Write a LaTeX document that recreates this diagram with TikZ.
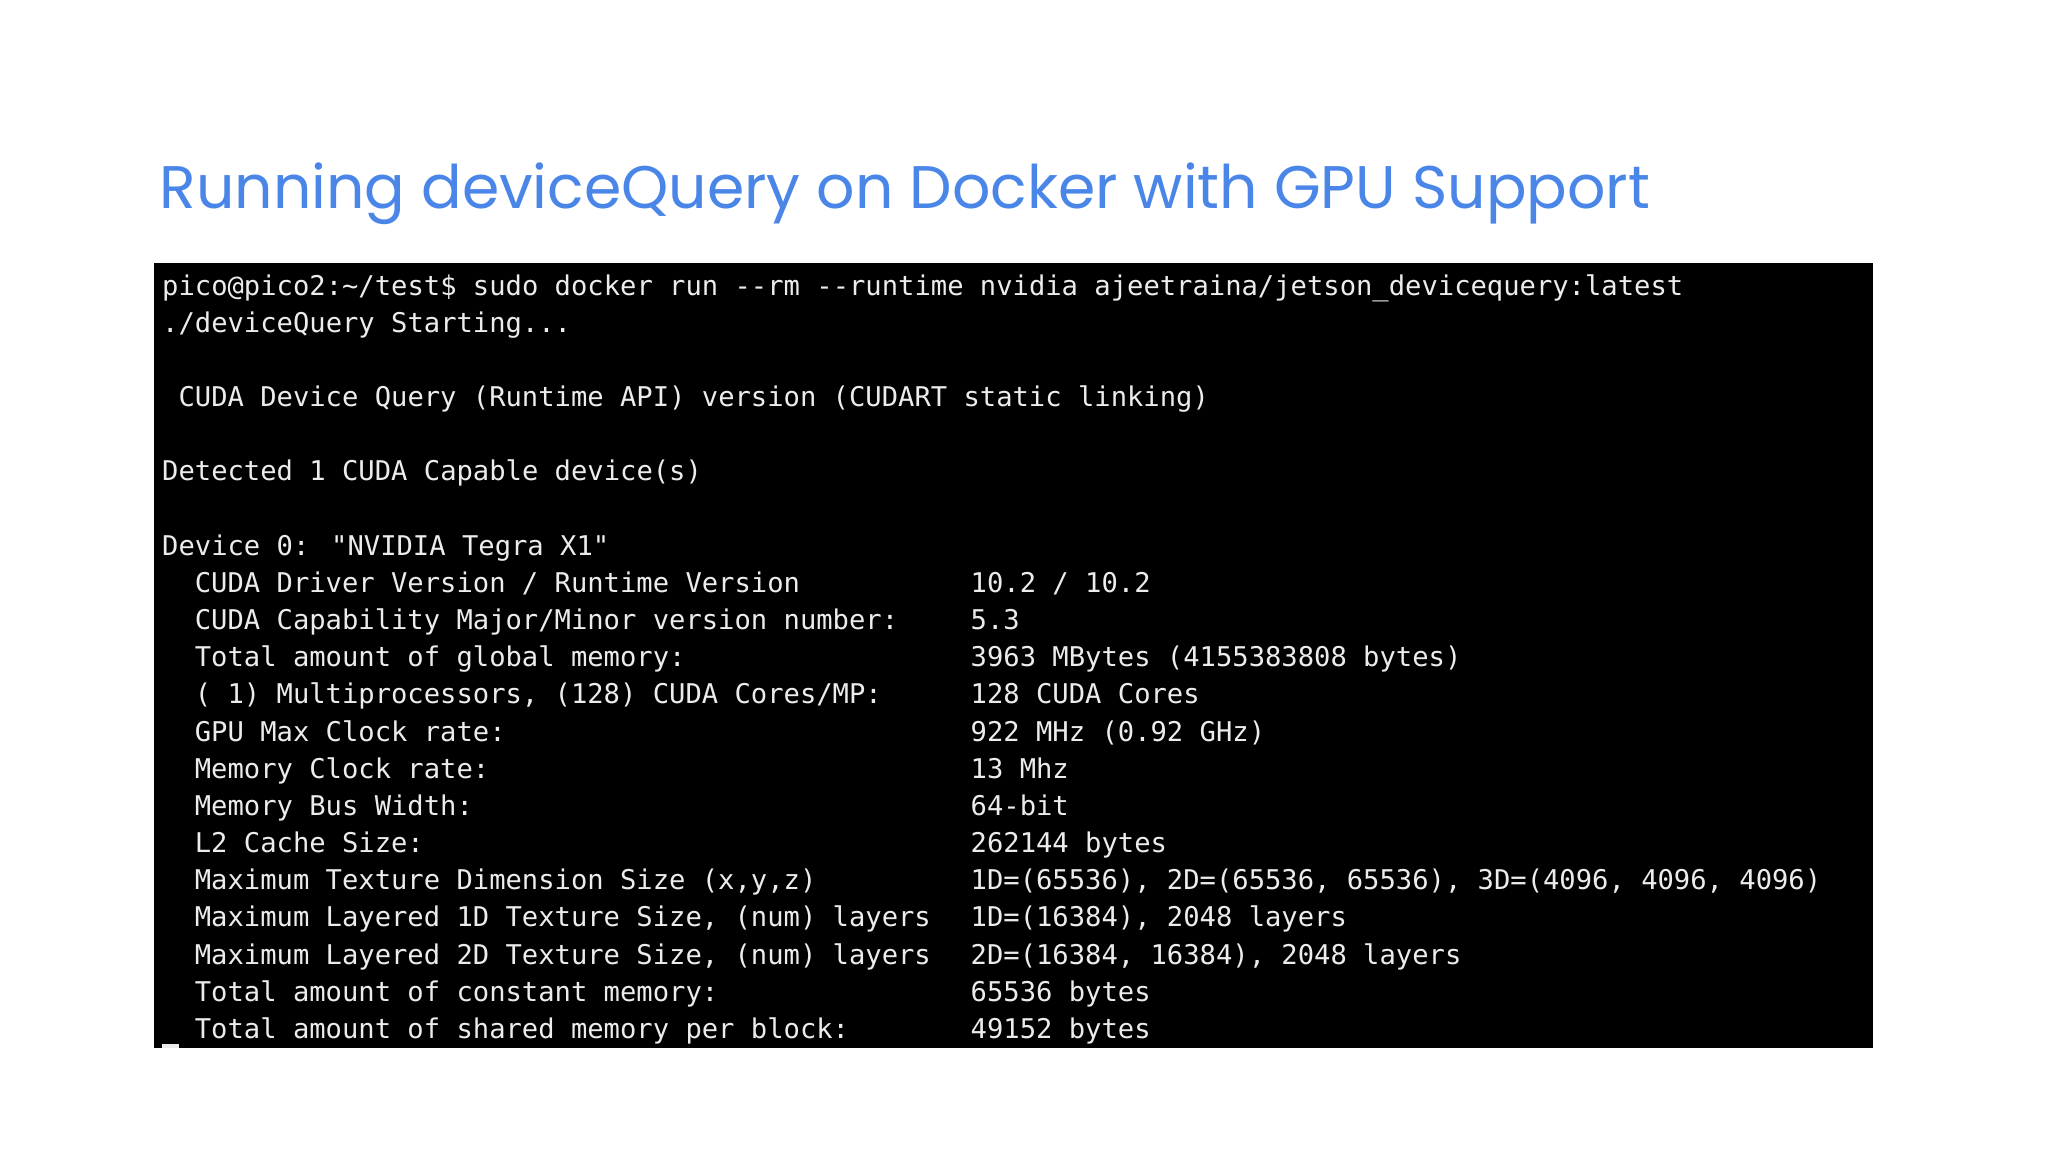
\documentclass[tikz,border=0pt]{standalone}
\usepackage{fontspec}
\setmainfont{Poppins}
\newfontfamily\termfont{DejaVu Sans Mono}
\definecolor{titleblue}{HTML}{4A86E8}
\definecolor{termtext}{HTML}{ECECEC}
\begin{document}
\begin{tikzpicture}[x=1pt,y=-1pt,
  ln/.style={anchor=base west,inner sep=0pt,text=termtext,font=\termfont\fontsize{20.8}{24}\selectfont}]
\useasboundingbox (0,0) rectangle (1568,882);
\fill[white] (0,0) rectangle (1568,882);
\node[anchor=base west,inner sep=0pt,text=titleblue,font=\fontsize{46}{50}\selectfont\addfontfeature{LetterSpace=0}] (title) at (122,160) {Running deviceQuery on Docker with GPU Support};
\fill[black] (118,201) rectangle (1434,802);
\def\B#1{\fpeval{226+28.45*#1}}
\node[ln] (l0) at (124,\B{0}) {pico@pico2:\textasciitilde/test\$ sudo docker run --rm --runtime nvidia ajeetraina/jetson\_devicequery:latest};
\node[ln] (l1) at (124,\B{1}) {./deviceQuery Starting...};
\node[ln] (l3) at (136.5,\B{3}) {CUDA Device Query (Runtime API) version (CUDART static linking)};
\node[ln] (l5) at (124,\B{5}) {Detected 1 CUDA Capable device(s)};
\node[ln] (l7) at (124,\B{7}) {Device 0: "NVIDIA Tegra X1"};
\foreach \i/\a/\b in {
 8/{CUDA Driver Version / Runtime Version}/{10.2 / 10.2},
 9/{CUDA Capability Major/Minor version number:}/{5.3},
 10/{Total amount of global memory:}/{3963 MBytes (4155383808 bytes)},
 11/{( 1) Multiprocessors, (128) CUDA Cores/MP:}/{128 CUDA Cores},
 12/{GPU Max Clock rate:}/{922 MHz (0.92 GHz)},
 13/{Memory Clock rate:}/{13 Mhz},
 14/{Memory Bus Width:}/{64-bit},
 15/{L2 Cache Size:}/{262144 bytes},
 16/{Maximum Texture Dimension Size (x,y,z)}/{1D=(65536), 2D=(65536, 65536), 3D=(4096, 4096, 4096)},
 17/{Maximum Layered 1D Texture Size, (num) layers}/{1D=(16384), 2048 layers},
 18/{Maximum Layered 2D Texture Size, (num) layers}/{2D=(16384, 16384), 2048 layers},
 19/{Total amount of constant memory:}/{65536 bytes},
 20/{Total amount of shared memory per block:}/{49152 bytes}}
 {\node[ln] (k\i) at (149,\B{\i}) {\a};
  \node[ln] (v\i) at (743,\B{\i}) {\b};}
\fill[termtext] (124,799) rectangle (137,802);
\end{tikzpicture}
\end{document}
